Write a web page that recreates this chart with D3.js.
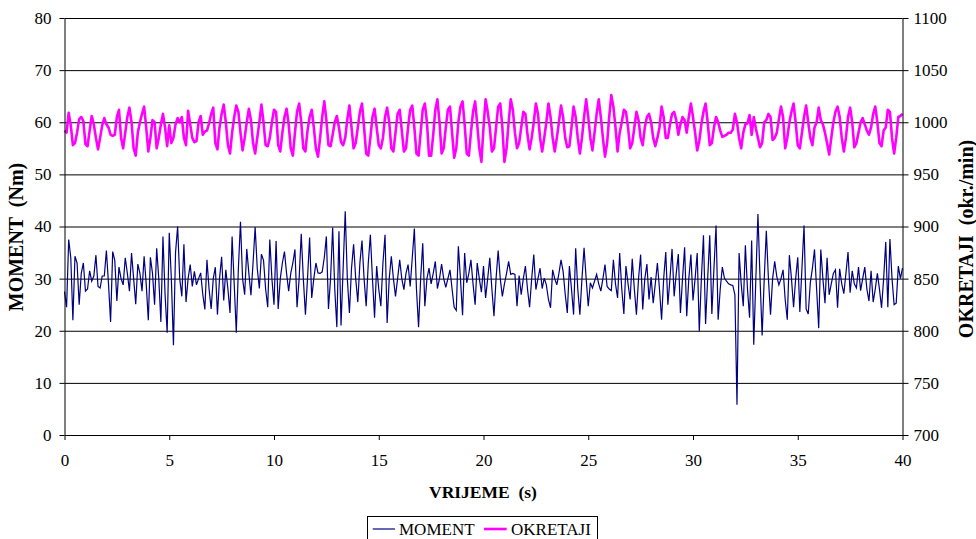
<!DOCTYPE html>
<html><head><meta charset="utf-8">
<script src="https://cdn.jsdelivr.net/npm/d3@7"></script>
<style>
html,body{margin:0;padding:0;background:#fff;}
svg{display:block;}
text{font-family:'Liberation Serif','Times New Roman',serif;fill:#000;}
</style></head>
<body>
<svg id="c" width="976" height="539"></svg>
<script>
// time step 0.1 s, 0..40 s
const xTicks = [0,5,10,15,20,25,30,35,40];
const leftTicks = [0,10,20,30,40,50,60,70,80];
const rightTicks = [700,750,800,850,900,950,1000,1050,1100];
const seriesNames = ["MOMENT","OKRETAJI"];

const moment = [
27.5,24.5,37.5,34,22,34.3,33,25,31,33,
27.6,28,31.5,29.5,30.5,34.5,28.5,28.2,30.5,30.5,
35.4,29,21.7,35.2,33.5,25.7,32.2,30,28.8,34,
31,27.6,34.9,30,25.1,32.8,31,27.6,34.3,29,
22,34.1,31,25,35.8,30,21.7,38.1,27,19.6,
38.8,30,17.2,35,40,30,26.6,36.6,25.5,30,
32.7,28.5,31.4,28.8,30,31.1,27,24.1,33.6,28,
24.2,30,32.2,23.1,30,34.2,25.8,31.7,28,23.4,
38.1,29,19.6,32,40.9,30,26.9,35.7,31,26.8,
33,39.9,32,28.1,34.7,33.5,28,24.5,37.5,30,
25,37.2,24.2,30,33,35.2,31,27.6,31,33,
35.6,24.5,30,38.6,30,23.1,30,37.9,26.3,30,
33,31.1,31,31.3,34,38.1,24.2,30,39.8,28,
20.7,39.1,21,32,42.9,30,23.4,32,36.6,30,
25.5,33,37.3,30,24.7,33,38.4,30,22.5,32.4,
28,24.7,33,38.4,21.5,30,34.3,30,26.6,30,
33.6,30,27.9,31,32.7,28.5,34,39.6,28,20.7,
30,36.8,24.7,30,32,29,31,33.3,28.1,30,
32.8,30,28.3,30,31.7,28,24.5,23.9,36.2,30,
23,34.9,29.2,31,33.6,29,25,33,30,27.4,
32.4,26.3,30,34,28,22.8,30,35.4,30,26.6,
29,31,33.3,30.8,31,30.8,24.7,30.6,26.9,30,
32.4,28,24.5,30,34.6,27.9,30,32,28.1,30.1,
28.8,26,24.4,31.7,30,28.8,31,33.6,31.4,27,
23.4,32.4,28,23.1,35.8,28,23.1,30,35.9,30,
24.7,29.2,28.2,29.5,30.8,29,27.6,30,32.7,28.5,
28,27.7,33.6,29,26.3,34.9,28,23.2,32.4,29,
26,33.8,28,23.1,30,34.6,24.1,30,32.8,26,
30.3,25.3,29,33,28,22.1,30,35.1,25,30,
35.7,26.6,31,34.7,23.4,30,36,22.8,30,34.6,
25.8,30,34.9,19.9,30,38.3,21.3,30,38.3,23.2,
32,40.2,22.1,28,32.2,30.1,29.5,29,28.8,28.7,
26.9,5.8,34.9,29,24.7,36.4,28,22.5,37.3,17.3,
30,42.4,30,19.1,30,39.2,30,23.1,30,33.3,
30.4,28.8,30,31.7,26,22.1,34.5,30,24.5,30,
34.1,23.6,32,40.2,24.2,23.2,29.2,32,35.6,28,
20.5,35.6,30,25.3,34,26.9,29,31,31.7,24.4,
31.9,29,27.1,31,35.1,27.3,31.5,29,28.2,32.2,
27.7,30,32.2,28,25.7,31.5,25.5,28,31,28,
24.4,30,37,24.5,37.6,30,25,25.3,32.4,30,
32
];

const okretaji = [
992,990,1009,997,978,980,990,1003,1005,1001,
979,977,992,1006,998,985,974,985,997,1004,
998,995,988,987,988,1005,1012,985,975,990,
1005,1014,1000,975,968,990,1000,1008,1015,995,
972,985,1002,1000,975,985,998,1008,995,977,
997,980,985,998,1004,1000,1005,985,978,1011,
998,985,981,982,1000,1006,988,991,992,999,
1008,1014,980,974,995,1008,1017,1000,978,970,
990,1005,1016,1010,990,973,985,1000,1013,1002,
980,970,985,1000,1017,1000,978,977,985,1000,
1012,1010,978,972,990,1005,1013,998,975,968,
990,1010,1018,1000,975,972,992,1005,1012,995,
975,967,985,1005,1020,1002,978,977,988,1000,
1006,995,981,978,985,1003,1016,995,975,980,
995,1010,1018,995,970,968,985,1005,1013,995,
978,975,985,1005,1014,1000,975,972,990,1008,
1012,992,972,975,995,1012,1016,995,970,968,
990,1012,1018,1000,968,968,988,1012,1022,1000,
970,975,995,1012,1015,990,966,975,1000,1015,
1020,998,970,968,990,1010,1020,998,975,962,
995,1022,1010,995,972,975,995,1015,1018,995,
962,975,1000,1022,1012,990,975,980,995,1010,
1008,988,974,985,1000,1018,1008,985,972,985,
1000,1018,1005,985,972,985,1000,1016,1005,985,
976,977,995,1015,1005,985,970,985,1005,1022,
1005,985,973,990,1008,1022,1005,985,967,980,
1005,1026,1015,995,972,990,1000,1012,1010,995,
975,980,995,1010,1002,985,978,995,1005,1008,
1000,985,977,985,995,1015,1005,985,985,998,
1008,1010,1002,988,998,1005,1002,990,1005,1018,
1005,990,973,982,998,1010,1018,1000,978,980,
995,1005,1000,992,986,987,988,990,990,993,
1008,1000,985,975,990,998,999,1007,988,1005,
994,985,976,980,1000,1002,1008,1005,983,985,
990,1003,1015,1005,975,985,1000,1010,1018,1000,
978,975,990,1005,1016,1000,985,978,995,1000,
1014,1002,998,990,980,969,985,1000,1010,1015,
1005,985,972,985,1005,1014,1000,976,980,990,
1000,1004,998,992,988,995,1008,1015,1000,980,
977,992,995,1012,1010,985,970,985,1005,1006,
1008
];

const L = 64.5, R = 902.5, T = 18, B = 435;
const FONT = "'Liberation Serif','Times New Roman',serif";
const svg = d3.select('#c');
const x = d3.scaleLinear().domain([0,40]).range([L,R]);
const yL = d3.scaleLinear().domain([0,80]).range([B,T]);
const yR = d3.scaleLinear().domain([700,1100]).range([B,T]);
const tOf = i => i/10;

// gridlines
svg.append('g').attr('transform',`translate(${L},0)`)
  .call(d3.axisLeft(yL).tickValues(leftTicks.slice(1)).tickSize(-(R-L)).tickFormat(''))
  .call(g=>g.select('.domain').remove())
  .call(g=>g.selectAll('line').attr('stroke','#000').attr('stroke-width',1));

// lines
const lineM = d3.line().x((d,i)=>x(tOf(i))).y(d=>yL(d));
const lineO = d3.line().x((d,i)=>x(tOf(i))).y(d=>yR(d));
svg.append('path').datum(moment).attr('d',lineM).attr('fill','none')
  .attr('stroke','#000080').attr('stroke-width',1.2).attr('stroke-linejoin','miter');
svg.append('path').datum(okretaji).attr('d',lineO).attr('fill','none')
  .attr('stroke','#FF00FF').attr('stroke-width',2.6).attr('stroke-linejoin','round');

const fontTick = 17;
const styleAxis = g=>{
  g.selectAll('path,line').attr('stroke','#000');
  g.selectAll('text').style('font-family',FONT).style('font-size',fontTick+'px').attr('fill','#000');
};
// left axis
svg.append('g').attr('transform',`translate(${L},0)`)
  .call(d3.axisLeft(yL).tickValues(leftTicks).tickSize(5).tickSizeOuter(0).tickPadding(8).tickFormat(d3.format('d')))
  .call(styleAxis);
// right axis
svg.append('g').attr('transform',`translate(${R},0)`)
  .call(d3.axisRight(yR).tickValues(rightTicks).tickSize(6).tickSizeOuter(0).tickPadding(5).tickFormat(d3.format('d')))
  .call(styleAxis);
// bottom axis
svg.append('g').attr('transform',`translate(0,${B})`)
  .call(d3.axisBottom(x).tickValues(xTicks).tickSize(5).tickSizeOuter(0).tickPadding(14).tickFormat(d3.format('d')))
  .call(styleAxis);

// titles
svg.append('text').attr('x',483).attr('y',498).attr('text-anchor','middle')
  .style('font-size','17.5px').attr('font-weight','bold').style('white-space','pre').text('VRIJEME  (s)');
svg.append('text').attr('transform','translate(23,237) rotate(-90)').attr('text-anchor','middle')
  .style('font-size','20px').attr('font-weight','bold').style('white-space','pre').text('MOMENT  (Nm)');
svg.append('text').attr('transform','translate(973,239) rotate(-90)').attr('text-anchor','middle')
  .style('font-size','20px').attr('font-weight','bold').style('white-space','pre').text('OKRETAJI  (okr./min)');

// legend
const lg = svg.append('g');
lg.append('rect').attr('x',367.5).attr('y',516.5).attr('width',230).attr('height',30)
  .attr('fill','#fff').attr('stroke','#000').attr('stroke-width',1);
const items = [
  {name:seriesNames[0], color:'#000080', w:1.2, x1:372.7, x2:395, tx:399},
  {name:seriesNames[1], color:'#FF00FF', w:2.6, x1:484, x2:506.7, tx:511}
];
items.forEach(it=>{
  lg.append('line').attr('x1',it.x1).attr('x2',it.x2).attr('y1',529).attr('y2',529)
    .attr('stroke',it.color).attr('stroke-width',it.w);
  lg.append('text').attr('x',it.tx).attr('y',535).style('font-size','17px').text(it.name);
});
</script>
</body></html>
